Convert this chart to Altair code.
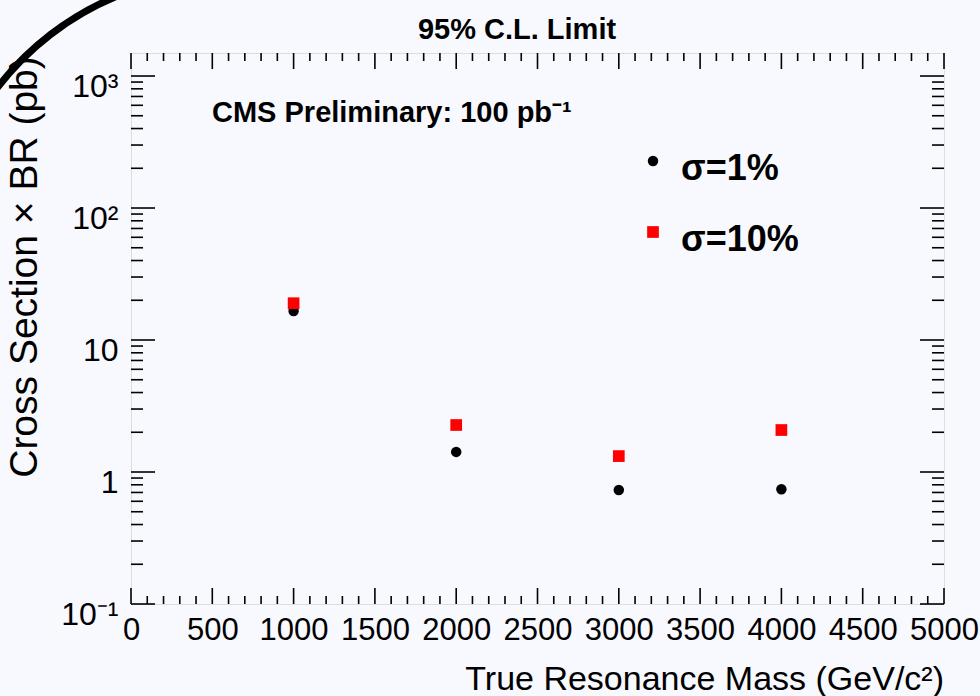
import altair as alt
import pandas as pd

# ---------------- data ----------------
mass = [1000, 2000, 3000, 4000]
limit_1pct = [16.6, 1.42, 0.73, 0.74]
limit_10pct = [19.0, 2.27, 1.32, 2.08]
series_names = ["σ=1%", "σ=10%"]
series_colors = ["#000000", "#ff0000"]
series_shapes = ["circle", "square"]
series_sizes = [110, 137]

x_label_values = list(range(0, 5001, 500))
y_label_values = [0.1, 1, 10, 100, 1000]
y_label_texts = ["10⁻¹", "1", "10", "10²", "10³"]

title_text = "95% C.L. Limit"
cms_text = "CMS Preliminary: 100 pb⁻¹"
x_title = "True Resonance Mass (GeV/c²)"
y_title = "Cross Section × BR (pb)"

x_major = list(range(0, 5001, 500))
x_minor = [v for v in range(0, 5001, 100) if v % 500 != 0]
y_major = [0.1, 1, 10, 100, 1000]
y_minor = [m * 10 ** e for e in range(-1, 3) for m in range(2, 10)]

# ---------------- layout ----------------
W, H = 813, 551
FONT = "Liberation Sans"

xscale = alt.Scale(domain=[0, 5000], nice=False, zero=False)
yscale = alt.Scale(type="log", domain=[0.1, 1494], nice=False)

label_map = "{" + ",".join(f"'{v}':'{t}'" for v, t in zip(y_label_values, y_label_texts)) + "}"

xaxis = alt.Axis(values=x_label_values, labelFontSize=31, labelFont=FONT, labelColor="black",
                 labelBaseline="alphabetic", labelPadding=35, ticks=False, tickSize=0,
                 domain=False, grid=False, title=None, labelFlush=False, labelOverlap=False,
                 format="d")
yaxis = alt.Axis(values=y_label_values, labelFontSize=32, labelFont=FONT, labelColor="black",
                 labelExpr=f"{label_map}[toString(datum.value)]",
                 labelBaseline="alphabetic", labelOffset=20, labelPadding=13,
                 ticks=False, tickSize=0, domain=False, grid=False, title=None,
                 labelFlush=False, labelOverlap=False)

df = pd.DataFrame({
    "mass": mass * 2,
    "limit": limit_1pct + limit_10pct,
    "series": [series_names[0]] * len(mass) + [series_names[1]] * len(mass),
})

color_scale = alt.Scale(domain=series_names, range=series_colors)
shape_scale = alt.Scale(domain=series_names, range=series_shapes)
size_scale = alt.Scale(domain=series_names, range=series_sizes)

points = alt.Chart(df).mark_point(filled=True, opacity=1, strokeWidth=0).encode(
    x=alt.X("mass:Q", scale=xscale, axis=xaxis),
    y=alt.Y("limit:Q", scale=yscale, axis=yaxis),
    color=alt.Color("series:N", scale=color_scale, legend=None),
    shape=alt.Shape("series:N", scale=shape_scale, legend=None),
    size=alt.Size("series:N", scale=size_scale, legend=None),
)


def ticks(values, side, length):
    d = pd.DataFrame({"v": values})
    base = alt.Chart(d).mark_rule(color="black", strokeWidth=1.6)
    if side in ("left", "right"):
        y = alt.Y("v:Q", scale=yscale, axis=yaxis)
        if side == "left":
            return base.encode(y=y, x=alt.value(0), x2=alt.value(length))
        return base.encode(y=y, x=alt.value(W), x2=alt.value(W - length))
    x = alt.X("v:Q", scale=xscale, axis=xaxis)
    if side == "bottom":
        return base.encode(x=x, y=alt.value(H), y2=alt.value(H - length))
    return base.encode(x=x, y=alt.value(0), y2=alt.value(length))


tick_layers = [
    ticks(y_major, "left", 24), ticks(y_minor, "left", 12),
    ticks(y_major, "right", 24), ticks(y_minor, "right", 12),
    ticks(x_major, "bottom", 16), ticks(x_minor, "bottom", 8),
    ticks(x_major, "top", 16), ticks(x_minor, "top", 8),
]


def label(text, x, y, size, weight="normal", align="left", angle=0, font=FONT):
    d = pd.DataFrame({"t": [text]})
    return alt.Chart(d).mark_text(font=font, fontSize=size, fontWeight=weight, align=align,
                                  baseline="alphabetic", angle=angle, color="black").encode(
        x=alt.value(x), y=alt.value(y), text="t:N")


texts = [
    label(title_text, 386, -14, 29, "bold", "center"),
    label(cms_text, 81, 69, 29, "bold", "left"),
    label(x_title, W, 637, 34, "normal", "right"),
    label(y_title, -94, 214, 39, "normal", "center", 270),
]

legend_layers = []
for i, name in enumerate(series_names):
    d = pd.DataFrame({"series": [name]})
    legend_layers.append(
        alt.Chart(d).mark_point(filled=True, opacity=1, strokeWidth=0).encode(
            x=alt.value(522), y=alt.value(108 + 71 * i),
            color=alt.Color("series:N", scale=color_scale, legend=None),
            shape=alt.Shape("series:N", scale=shape_scale, legend=None),
            size=alt.Size("series:N", scale=size_scale, legend=None),
        )
    )
    legend_layers.append(label(name, 550, 127 + 71 * i, 36, "bold", "left"))

# decorative corner arc of the original canvas
arc = alt.Chart(pd.DataFrame({"a": [0]})).mark_arc(
    color="black", theta=5.236, theta2=6.021, radius=293, radius2=286
).encode(x=alt.value(96), y=alt.value(211))

chart = alt.layer(points, *tick_layers, arc, *legend_layers, *texts).properties(
    width=W, height=H,
    autosize=alt.AutoSizeParams(type="none"),
    padding={"left": 131, "top": 53, "right": 36, "bottom": 92},
    background="#f8f8ff",
).configure_view(stroke="black", strokeWidth=2).configure(font=FONT)

chart.save("out.html", embed_options={"renderer": "svg", "actions": False})
